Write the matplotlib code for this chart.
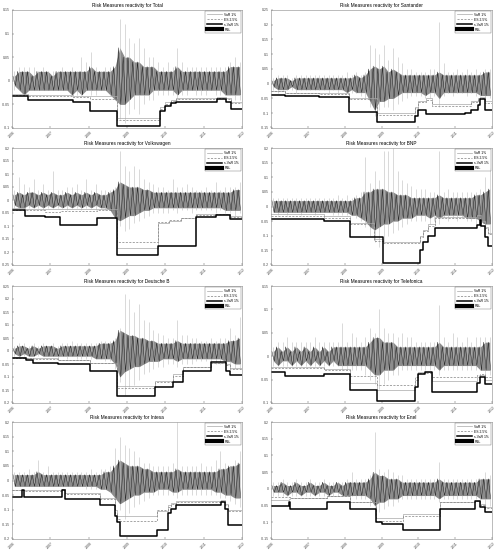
import numpy as np
import matplotlib
matplotlib.use('Agg')
import matplotlib.pyplot as plt
from matplotlib.lines import Line2D

plt.rcParams['font.family'] = ['Liberation Sans', 'DejaVu Sans']

YEARS = [2006, 2007, 2008, 2009, 2010, 2011, 2012]
N_BUCKETS = 48   # 1.5 month buckets for the daily series envelope (in %)

# ---------------- Total ----------------
total_light_hi = [2,3,3,3,3,2,3,2,2,2, 3,2,3,2,5,4,6,3,2,3, 3,3,13,12,9,8,9,7,5,5, 4,3,4,3,7,4,3,3,3,3, 3,3,3,3,3,4,5,4]
total_light_lo = [-2,-2,-3,-2,-2,-2,-2,-2,-2,-2, -2,-2,-2,-3,-3,-2,-3,-3,-2,-2, -3,-4,-8,-9,-7,-6,-7,-5,-4,-4, -3,-3,-3,-3,-4,-3,-3,-2,-3,-3, -3,-2,-3,-3,-3,-3,-4,-4]
total_dark_hi = [1,2,2,2,1,2,2,2,1,2, 2,2,2,2,2,2,3,2,2,2, 2,3,7,5,5,4,4,3,3,3, 2,2,2,2,3,2,2,2,2,2, 2,2,2,2,2,3,3,3]
total_dark_lo = [-1,-2,-3,-2,-2,-2,-2,-2,-2,-2, -2,-2,-3,-2,-3,-2,-2,-2,-2,-2, -3,-4,-5,-5,-4,-3,-3,-3,-3,-2, -2,-2,-2,-2,-3,-2,-2,-2,-2,-2, -2,-2,-2,-2,-3,-3,-3,-3]
total_breaks = [0, 0.43, 1.60, 2.04, 2.73, 3.86, 3.99, 4.16, 4.29, 5.34, 5.59, 5.72]
total_svar = [-0.033,-0.040,-0.045,-0.065,-0.096,-0.065,-0.054,-0.047,-0.044,-0.038,-0.044,-0.059]
total_var = [-0.028,-0.030,-0.032,-0.033,-0.078,-0.055,-0.045,-0.040,-0.036,-0.034,-0.036,-0.045]
total_es = [-0.030,-0.032,-0.034,-0.038,-0.084,-0.060,-0.050,-0.043,-0.038,-0.036,-0.038,-0.048]

# ---------------- Santander ----------------
san_light_hi = [2,3,3,3,2,3,3,3,3,3, 3,3,3,3,3,3,4,3,4,3, 4,13,12,10,13,8,12,9,7,5, 5,4,4,4,5,5,21,7,4,4, 5,4,5,4,5,4,5,5]
san_light_lo = [-2,-3,-2,-2,-2,-3,-2,-2,-2,-2, -2,-2,-3,-2,-3,-2,-3,-3,-3,-4, -5,-8,-11,-9,-8,-8,-9,-7,-6,-5, -4,-4,-4,-5,-5,-4,-8,-4,-3,-4, -3,-3,-4,-3,-4,-4,-5,-5]
san_dark_hi = [1,2,2,2,1,2,2,2,2,2, 2,2,2,2,2,2,2,2,3,2, 3,5,6,5,6,4,5,4,3,3, 3,3,3,3,3,3,4,3,3,3, 3,3,3,3,3,3,4,4]
san_dark_lo = [-1,-2,-2,-2,-1,-2,-2,-2,-2,-2, -2,-2,-2,-2,-2,-2,-3,-2,-3,-3, -3,-6,-9,-6,-6,-5,-5,-4,-3,-3, -3,-3,-3,-4,-3,-3,-5,-3,-3,-3, -3,-3,-3,-3,-3,-4,-4,-4]
san_breaks = [0, 0.39, 1.29, 2.13, 2.87, 3.91, 4.00, 4.22, 4.36, 5.26, 5.44, 5.62, 5.67, 5.80]
san_svar = [-0.037,-0.041,-0.046,-0.097,-0.131,-0.111,-0.088,-0.103,-0.103,-0.099,-0.088,-0.071,-0.052,-0.088]
san_var = [-0.023,-0.030,-0.033,-0.048,-0.100,-0.080,-0.060,-0.050,-0.070,-0.070,-0.060,-0.050,-0.045,-0.060]
san_es = [-0.025,-0.032,-0.035,-0.051,-0.105,-0.082,-0.062,-0.054,-0.074,-0.074,-0.062,-0.052,-0.048,-0.065]

# ---------------- Volkswagen ----------------
vw_light_hi = [4,9,6,5,8,4,6,4,11,4, 4,5,5,6,4,8,4,6,4,4, 4,5,19,13,11,13,12,8,7,6, 5,5,4,8,5,5,6,5,4,4, 5,4,7,4,5,5,5,7]
vw_light_lo = [-3,-3,-4,-3,-3,-3,-4,-3,-3,-3, -3,-4,-3,-3,-4,-3,-3,-4,-3,-4, -4,-6,-10,-12,-11,-9,-8,-7,-6,-5, -5,-5,-5,-4,-5,-4,-4,-5,-4,-4, -4,-4,-5,-4,-5,-5,-6,-5]
vw_dark_hi = [2,3,2,3,3,2,3,2,3,2, 2,3,2,3,2,3,2,3,2,2, 3,4,7,6,5,5,5,4,4,3, 3,3,3,3,3,3,3,3,3,3, 3,3,3,3,3,3,4,4]
vw_dark_lo = [-2,-3,-3,-2,-3,-2,-3,-2,-3,-2, -3,-2,-3,-2,-3,-2,-3,-2,-3,-3, -4,-7,-8,-7,-6,-6,-5,-4,-4,-3, -3,-3,-3,-3,-3,-3,-3,-3,-3,-3, -3,-3,-3,-3,-4,-4,-4,-4]
vw_breaks = [0, 0.35, 0.87, 1.26, 2.21, 2.73, 3.82, 4.10, 4.40, 4.81, 5.33, 5.68]
vw_svar = [-0.040,-0.060,-0.067,-0.096,-0.070,-0.211,-0.175,-0.175,-0.175,-0.065,-0.057,-0.074]
vw_var = [-0.031,-0.034,-0.035,-0.035,-0.036,-0.186,-0.090,-0.080,-0.070,-0.055,-0.052,-0.060]
vw_es = [-0.038,-0.040,-0.045,-0.042,-0.040,-0.160,-0.085,-0.078,-0.068,-0.058,-0.055,-0.065]

# ---------------- BNP ----------------
bnp_light_hi = [3,3,3,3,3,3,3,3,3,3, 3,3,3,3,4,3,4,3,4,5, 17,8,12,9,19,19,20,12,9,8, 7,6,6,6,5,5,19,5,6,5, 5,5,5,5,5,6,10,13]
bnp_light_lo = [-2,-3,-2,-3,-2,-2,-3,-2,-2,-3, -2,-2,-2,-3,-3,-3,-3,-3,-4,-5, -7,-10,-12,-14,-12,-10,-9,-8,-7,-6, -5,-5,-5,-5,-6,-5,-6,-4,-5,-4, -5,-4,-5,-5,-6,-7,-8,-9]
bnp_dark_hi = [2,2,2,2,2,2,2,2,2,2, 2,2,2,2,2,2,2,2,3,3, 5,5,6,6,6,5,5,4,4,4, 3,3,3,3,3,3,4,3,3,3, 3,3,3,3,4,4,5,6]
bnp_dark_lo = [-2,-2,-2,-2,-2,-2,-2,-2,-2,-2, -2,-2,-2,-2,-2,-2,-2,-3,-3,-4, -5,-7,-8,-7,-6,-6,-5,-5,-4,-4, -4,-3,-3,-3,-4,-3,-4,-3,-3,-3, -3,-3,-4,-4,-4,-5,-6,-6]
bnp_breaks = [0, 1.43, 2.15, 2.80, 3.05, 4.04, 4.13, 4.27, 4.45, 5.58, 5.67, 5.71, 5.80, 5.89]
bnp_svar = [-0.042,-0.051,-0.103,-0.103,-0.192,-0.150,-0.120,-0.100,-0.074,-0.063,-0.046,-0.066,-0.103,-0.134]
bnp_var = [-0.026,-0.034,-0.055,-0.110,-0.120,-0.100,-0.080,-0.060,-0.035,-0.030,-0.030,-0.050,-0.070,-0.090]
bnp_es = [-0.034,-0.038,-0.060,-0.118,-0.126,-0.105,-0.085,-0.065,-0.040,-0.035,-0.035,-0.055,-0.075,-0.095]

# ---------------- Deutsche B ----------------
db_light_hi = [2,3,3,2,3,2,3,2,3,2, 3,3,4,3,3,3,3,3,4,4, 4,5,9,22,20,15,18,12,11,8, 7,6,5,5,12,6,6,5,5,4, 4,5,4,5,5,9,6,13]
db_light_lo = [-2,-2,-2,-2,-2,-2,-2,-2,-2,-3, -2,-3,-2,-3,-3,-3,-3,-3,-3,-4, -4,-7,-12,-17,-14,-13,-11,-9,-8,-7, -6,-6,-5,-5,-6,-5,-5,-5,-4,-4, -4,-4,-5,-5,-5,-6,-7,-7]
db_dark_hi = [1,2,2,1,2,1,2,2,2,1, 2,2,2,2,2,2,2,2,3,3, 3,4,8,7,6,6,5,5,4,4, 3,3,3,3,4,3,3,3,3,3, 3,3,3,3,3,4,4,5]
db_dark_lo = [-1,-2,-1,-2,-2,-1,-2,-2,-2,-2, -2,-2,-2,-2,-2,-2,-2,-3,-3,-3, -3,-5,-10,-8,-7,-6,-6,-5,-4,-4, -4,-3,-3,-3,-4,-3,-3,-3,-3,-3, -3,-3,-3,-3,-4,-4,-5,-5]
db_breaks = [0, 0.37, 0.56, 1.21, 2.04, 2.73, 3.73, 4.21, 4.47, 5.20, 5.59, 5.68]
db_svar = [-0.025,-0.035,-0.046,-0.050,-0.077,-0.174,-0.140,-0.120,-0.075,-0.043,-0.075,-0.093]
db_var = [-0.024,-0.026,-0.028,-0.033,-0.045,-0.136,-0.115,-0.090,-0.060,-0.046,-0.050,-0.065]
db_es = [-0.026,-0.028,-0.030,-0.035,-0.048,-0.142,-0.120,-0.095,-0.063,-0.048,-0.055,-0.070]

# ---------------- Telefonica ----------------
tef_light_hi = [2,3,3,4,3,3,3,3,3,4, 3,3,3,3,3,7,3,5,4,3, 4,6,5,10,6,5,5,4,5,4, 4,3,3,3,3,3,11,4,3,5, 4,3,4,3,4,4,4,4]
tef_light_lo = [-2,-2,-2,-2,-2,-2,-2,-2,-2,-2, -2,-2,-2,-2,-2,-3,-3,-3,-3,-3, -4,-5,-6,-7,-6,-5,-4,-4,-3,-3, -3,-3,-3,-3,-3,-3,-4,-3,-3,-3, -3,-3,-3,-3,-3,-3,-4,-4]
tef_dark_hi = [1,2,1,2,1,2,1,2,1,2, 1,2,1,2,2,2,2,2,2,2, 2,3,4,4,3,3,3,2,2,2, 2,2,2,2,2,2,3,2,2,2, 2,2,2,2,2,2,3,3]
tef_dark_lo = [-1,-2,-1,-1,-2,-1,-2,-1,-2,-1, -2,-1,-2,-1,-2,-2,-2,-2,-2,-2, -2,-3,-4,-4,-3,-3,-3,-2,-2,-2, -2,-2,-2,-2,-2,-2,-3,-2,-2,-2, -2,-2,-2,-2,-2,-3,-3,-3]
tef_breaks = [0, 0.39, 1.43, 2.15, 2.87, 3.91, 4.00, 4.18, 4.36, 5.58, 5.67, 5.80]
tef_svar = [-0.034,-0.042,-0.039,-0.072,-0.095,-0.065,-0.037,-0.033,-0.076,-0.058,-0.044,-0.060]
tef_var = [-0.023,-0.024,-0.028,-0.058,-0.072,-0.050,-0.034,-0.034,-0.052,-0.045,-0.040,-0.050]
tef_es = [-0.025,-0.026,-0.030,-0.043,-0.062,-0.045,-0.036,-0.036,-0.044,-0.040,-0.038,-0.045]

# ---------------- Intesa ----------------
isp_light_hi = [3,3,3,4,3,7,3,5,3,3, 3,3,3,3,3,3,4,3,4,4, 5,11,15,12,11,10,8,6,6,5, 5,5,5,6,20,5,5,5,5,6, 5,5,7,10,6,5,7,10]
isp_light_lo = [-2,-2,-2,-2,-2,-2,-2,-2,-2,-2, -2,-2,-2,-2,-2,-3,-3,-3,-3,-3, -4,-7,-10,-13,-11,-9,-8,-7,-6,-5, -5,-5,-5,-5,-6,-5,-5,-5,-5,-5, -5,-5,-5,-6,-6,-7,-8,-9]
isp_dark_hi = [2,2,2,2,2,3,2,2,2,2, 2,2,2,2,2,2,2,2,2,3, 3,5,7,6,5,5,5,4,4,3, 3,3,3,3,4,3,3,3,3,3, 3,3,3,4,4,5,5,6]
isp_dark_lo = [-2,-2,-2,-2,-2,-2,-2,-2,-2,-2, -2,-2,-2,-2,-2,-2,-2,-2,-3,-3, -4,-6,-8,-7,-6,-5,-5,-4,-4,-4, -3,-3,-3,-4,-4,-3,-3,-3,-3,-3, -3,-3,-4,-4,-5,-5,-6,-6]
isp_breaks = [0, 0.26, 0.30, 1.30, 1.37, 2.30, 2.69, 2.73, 2.82, 3.77, 4.08, 4.16, 4.29, 5.46, 5.55, 5.64]
isp_svar = [-0.056,-0.031,-0.057,-0.031,-0.063,-0.084,-0.120,-0.143,-0.189,-0.168,-0.110,-0.099,-0.083,-0.074,-0.099,-0.153]
isp_var = [-0.031,-0.031,-0.034,-0.028,-0.042,-0.059,-0.100,-0.120,-0.121,-0.104,-0.085,-0.076,-0.070,-0.068,-0.080,-0.100]
isp_es = [-0.033,-0.033,-0.036,-0.030,-0.045,-0.062,-0.110,-0.130,-0.138,-0.100,-0.090,-0.080,-0.072,-0.070,-0.085,-0.105]

# ---------------- Enel ----------------
enel_light_hi = [2,2,3,2,2,3,2,2,3,2, 2,3,2,2,2,2,3,5,3,3, 3,4,17,6,5,6,5,4,4,3, 3,3,3,3,3,3,8,3,3,3, 3,3,3,3,3,3,5,4]
enel_light_lo = [-2,-2,-2,-2,-2,-2,-2,-2,-2,-2, -2,-2,-2,-2,-2,-2,-2,-2,-3,-3, -3,-5,-8,-7,-6,-5,-5,-4,-3,-3, -3,-3,-3,-3,-3,-3,-4,-3,-3,-3, -3,-3,-3,-3,-3,-4,-5,-5]
enel_dark_hi = [1,1,2,1,1,2,1,1,2,1, 1,2,1,1,2,1,2,2,2,2, 2,3,5,4,4,3,3,3,2,2, 2,2,2,2,2,2,3,2,2,2, 2,2,2,2,2,3,3,3]
enel_dark_lo = [-1,-1,-1,-2,-1,-1,-2,-1,-1,-2, -1,-1,-2,-1,-1,-2,-2,-2,-2,-2, -2,-3,-5,-4,-4,-3,-3,-3,-2,-2, -2,-2,-2,-2,-2,-2,-3,-2,-2,-2, -2,-2,-2,-2,-2,-3,-3,-3]
enel_breaks = [0, 0.48, 0.52, 1.52, 2.15, 2.85, 3.01, 3.59, 4.58, 5.53, 5.67, 5.80]
enel_svar = [-0.052,-0.038,-0.060,-0.040,-0.060,-0.100,-0.105,-0.123,-0.060,-0.035,-0.055,-0.068]
enel_var = [-0.032,-0.030,-0.028,-0.020,-0.040,-0.088,-0.088,-0.075,-0.038,-0.035,-0.045,-0.055]
enel_es = [-0.025,-0.025,-0.028,-0.022,-0.038,-0.095,-0.095,-0.080,-0.040,-0.037,-0.048,-0.058]

# name, y-limits, series (grid order: left, right per row)
panels = [
    ('Total', (-0.1, 0.15), total_light_hi, total_light_lo, total_dark_hi, total_dark_lo,
     total_breaks, total_var, total_es, total_svar),
    ('Santander', (-0.15, 0.25), san_light_hi, san_light_lo, san_dark_hi, san_dark_lo,
     san_breaks, san_var, san_es, san_svar),
    ('Volkswagen', (-0.25, 0.2), vw_light_hi, vw_light_lo, vw_dark_hi, vw_dark_lo,
     vw_breaks, vw_var, vw_es, vw_svar),
    ('BNP', (-0.2, 0.2), bnp_light_hi, bnp_light_lo, bnp_dark_hi, bnp_dark_lo,
     bnp_breaks, bnp_var, bnp_es, bnp_svar),
    ('Deutsche B', (-0.2, 0.25), db_light_hi, db_light_lo, db_dark_hi, db_dark_lo,
     db_breaks, db_var, db_es, db_svar),
    ('Telefonica', (-0.1, 0.15), tef_light_hi, tef_light_lo, tef_dark_hi, tef_dark_lo,
     tef_breaks, tef_var, tef_es, tef_svar),
    ('Intesa', (-0.2, 0.2), isp_light_hi, isp_light_lo, isp_dark_hi, isp_dark_lo,
     isp_breaks, isp_var, isp_es, isp_svar),
    ('Enel', (-0.15, 0.2), enel_light_hi, enel_light_lo, enel_dark_hi, enel_dark_lo,
     enel_breaks, enel_var, enel_es, enel_svar),
]

# axes boxes in pixels
cols = [(12, 242), (271, 492)]
rows = [(10, 128), (148, 265), (286, 403), (422, 539)]
W, H = 499, 550

fig = plt.figure(figsize=(W / 100, H / 100), dpi=100)

dt = 6.0 / N_BUCKETS
tc = np.array([YEARS[0] + (i + 0.5) * dt for i in range(N_BUCKETS)])

def zigzag(hi, lo, off_hi, off_lo):
    xs, ys = [], []
    for i in range(N_BUCKETS):
        xs += [YEARS[0] + (i + off_hi) * dt, YEARS[0] + (i + off_lo) * dt]
        ys += [hi[i], lo[i]]
    return xs, ys

for k, p in enumerate(panels):
    name, ylim, lhi, llo, dhi, dlo, brk, var, es, svar = p
    x0, x1 = cols[k % 2]
    y0, y1 = rows[k // 2]
    ax = fig.add_axes([x0 / W, 1 - y1 / H, (x1 - x0) / W, (y1 - y0) / H])

    lhi_a = np.array(lhi) / 100.0
    llo_a = np.array(llo) / 100.0
    dhi_a = np.array(dhi) / 100.0
    dlo_a = np.array(dlo) / 100.0

    # daily series: light spikes, grey body, black zigzag
    ax.vlines(tc, llo_a, lhi_a, color='#bdbdbd', lw=0.4)
    ax.fill_between(tc, dlo_a, dhi_a, color='#8c8c8c', lw=0)
    xs, ys = zigzag(dhi_a, dlo_a, 0.2, 0.7)
    ax.plot(xs, ys, color='#111111', lw=0.3)

    # risk measures (step functions)
    bx = [YEARS[0] + b for b in brk] + [YEARS[-1]]
    ax.step(bx, var + [var[-1]], where='post', color='#a8a8a8', lw=0.5)
    ax.step(bx, es + [es[-1]], where='post', color='#808080', lw=0.5, ls=(0, (3, 2)))
    ax.step(bx, svar + [svar[-1]], where='post', color='black', lw=1.1)

    ax.set_xlim(YEARS[0], YEARS[-1])
    ax.set_ylim(*ylim)
    ax.set_xticks(YEARS)
    ax.set_xticklabels([str(y) for y in YEARS], rotation=45, fontsize=2.5)
    yt = np.arange(ylim[0], ylim[1] + 1e-9, 0.05)
    ax.set_yticks(yt)
    ax.set_yticklabels(['%g' % round(v, 2) for v in yt], fontsize=2.5)
    ax.tick_params(direction='in', length=1.5, width=0.3, pad=1.5, colors='#444444')
    for s in ax.spines.values():
        s.set_linewidth(0.4)
        s.set_color('#888888')
    ax.set_title('Risk Measures reactivity for ' + name, fontsize=3.4, pad=2)

    handles = [Line2D([], [], color='#a8a8a8', lw=0.5),
               Line2D([], [], color='#808080', lw=0.5, ls=(0, (3, 2))),
               Line2D([], [], color='black', lw=1.1),
               Line2D([], [], color='black', lw=3.0)]
    leg = ax.legend(handles, ['VaR 1%', 'ES 2.5%', 's.VaR 1%', 'P&L'], loc='upper right',
                    fontsize=2.4, frameon=True, fancybox=False, borderpad=0.5,
                    handlelength=4.5, labelspacing=0.3, borderaxespad=0.3)
    leg.get_frame().set_linewidth(0.3)
    leg.get_frame().set_edgecolor('#444444')

fig.savefig('out.png', dpi=100)
